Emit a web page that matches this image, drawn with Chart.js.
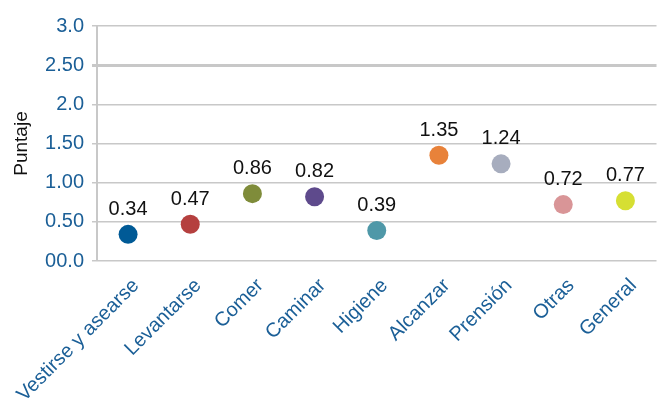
<!DOCTYPE html>
<html>
<head>
<meta charset="utf-8">
<script src="https://cdn.jsdelivr.net/npm/chart.js@4/dist/chart.umd.min.js"></script>
<style>
html,body{margin:0;padding:0;background:#fff;}
#wrap{width:666px;height:405px;position:relative;}
</style>
</head>
<body>
<div id="wrap"><canvas id="c" width="666" height="405"></canvas></div>
<script>
const categories = ["Vestirse y asearse","Levantarse","Comer","Caminar","Higiene","Alcanzar","Prensión","Otras","General"];
const values = [0.34,0.47,0.86,0.82,0.39,1.35,1.24,0.72,0.77];
const valueLabels = ["0.34","0.47","0.86","0.82","0.39","1.35","1.24","0.72","0.77"];
const pointColors = ["#005a96","#b5403f","#7f8c3a","#5e4a8c","#4f98a8","#e8823a","#a7adbe","#d99597","#d6df33"];
const tickValues = [0,0.5,1,1.5,2,2.5,3];
const tickLabels = ["00.0","0.50","1.00","1.50","2.0","2.50","3.0"];

const FONT = "'Liberation Sans', Arial, Helvetica, sans-serif";
const BLUE = "#1b5f97";

const labelPlugin = {
  id: 'valueLabels',
  afterDatasetsDraw(chart){
    const ctx = chart.ctx;
    const meta = chart.getDatasetMeta(0);
    ctx.save();
    ctx.font = "20px " + FONT;
    ctx.fillStyle = "#111";
    ctx.textAlign = "center";
    ctx.textBaseline = "middle";
    meta.data.forEach((pt, i) => {
      ctx.fillText(valueLabels[i], pt.x, pt.y - 25);
    });
    ctx.restore();
  }
};

new Chart(document.getElementById('c'), {
  type: 'line',
  data: {
    labels: categories,
    datasets: [{
      data: values,
      showLine: false,
      pointRadius: 9.5,
      pointHoverRadius: 9.5,
      pointBorderWidth: 0,
      pointBackgroundColor: pointColors,
      pointBorderColor: pointColors
    }]
  },
  options: {
    responsive: false,
    animation: false,
    events: [],
    layout: { padding: { top: 26, right: 0, left: 0, bottom: 0 } },
    plugins: { legend: { display: false }, tooltip: { enabled: false } },
    scales: {
      x: {
        type: 'category',
        offset: true,
        grid: { display: false, drawTicks: false },
        border: { display: false },
        ticks: {
          color: BLUE,
          font: { size: 20, family: FONT },
          maxRotation: 45, minRotation: 45,
          autoSkip: false,
          padding: 13,
          labelOffset: 8
        },
        afterFit(scale){ scale.height = 144; scale.paddingLeft = 0; scale.paddingRight = 0; }
      },
      y: {
        min: 0, max: 3,
        afterBuildTicks(scale){ scale.ticks = tickValues.map(v => ({ value: v })); },
        grid: {
          color: "#c8c8c8",
          lineWidth: (ctx) => (ctx.tick && ctx.tick.value === 2.5) ? 3 : 1.5,
          tickLength: 5
        },
        border: { display: true, color: "#c8c8c8", width: 2 },
        ticks: {
          color: BLUE,
          font: { size: 20, family: FONT },
          padding: 8,
          callback: (v, i) => tickLabels[i]
        },
        title: {
          display: true,
          text: "Puntaje",
          color: "#111",
          font: { size: 19, family: FONT },
          padding: { top: 10, bottom: 0 }
        },
        afterFit(scale){ scale.width = 97; }
      }
    }
  },
  plugins: [labelPlugin]
});
</script>
</body>
</html>
